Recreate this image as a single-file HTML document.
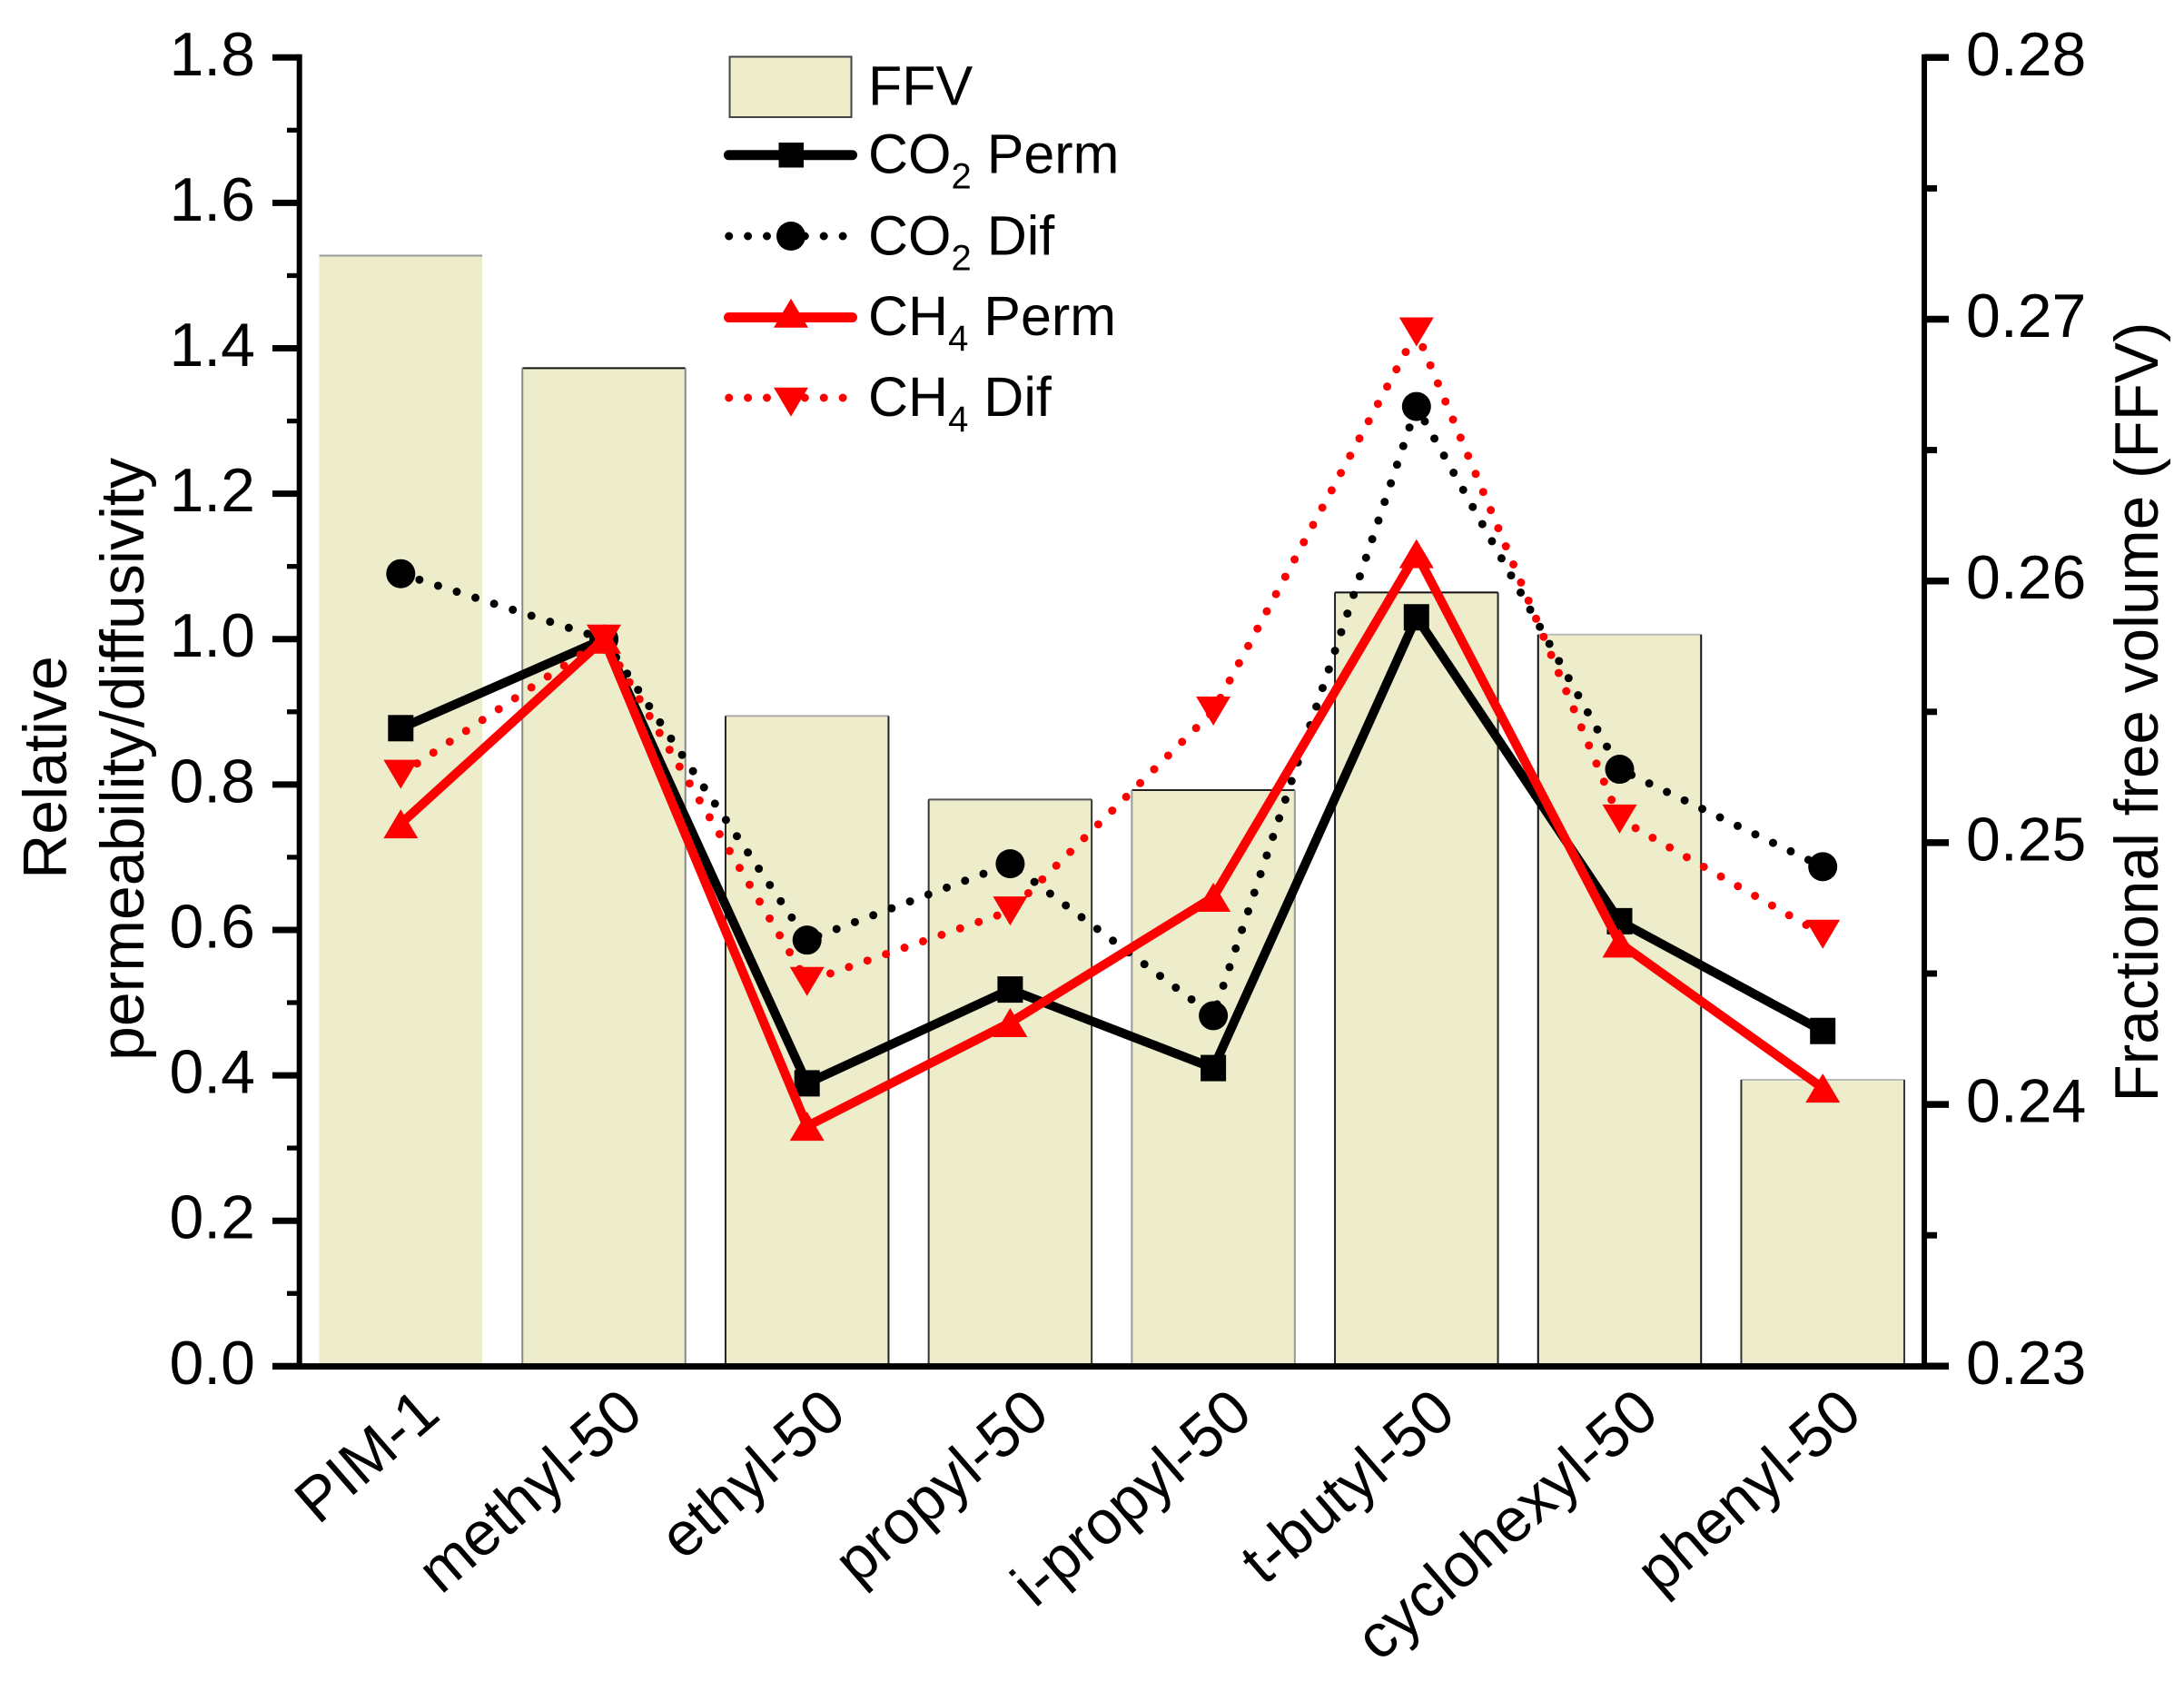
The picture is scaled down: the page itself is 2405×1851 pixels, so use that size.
<!DOCTYPE html>
<html lang="en">
<head>
<meta charset="utf-8">
<title>Relative permeability and fractional free volume</title>
<style>
html,body{margin:0;padding:0;background:#fff;width:2405px;height:1851px;overflow:hidden}
svg{display:block}
text{font-family:"Liberation Sans",Arial,sans-serif;fill:#000}
.tick-text{font-size:68px}
.axis-title{font-size:68px}
.right-title{font-size:67.5px}
.cat-text{font-size:68px}
.legend-text{font-size:61px}
.sub{font-size:40px}
.edge{stroke-width:2;fill:none}
.bar:nth-child(1) .edge-top{stroke:#999}
.bar:nth-child(1) .edge-side{stroke:none}
.bar:nth-child(2) .edge-top{stroke:#111}
.bar:nth-child(2) .edge-side{stroke:#888}
.bar:nth-child(3) .edge-top{stroke:#aaa}
.bar:nth-child(3) .edge-side{stroke:#222}
.bar:nth-child(4) .edge-top{stroke:#555}
.bar:nth-child(4) .edge-side{stroke:#333}
.bar:nth-child(5) .edge-top{stroke:#222}
.bar:nth-child(5) .edge-side{stroke:#999}
.bar:nth-child(6) .edge-top{stroke:#111}
.bar:nth-child(6) .edge-side{stroke:#222}
.bar:nth-child(7) .edge-top{stroke:#bbb}
.bar:nth-child(7) .edge-side{stroke:#111}
.bar:nth-child(8) .edge-top{stroke:#bbb}
.bar:nth-child(8) .edge-side{stroke:#333}
</style>
</head>
<body>
<svg id="chart" xmlns="http://www.w3.org/2000/svg" width="2405" height="1851" viewBox="0 0 2405 1851">
  <rect x="0" y="0" width="2405" height="1851" fill="#fff"/>
  <g id="bars"></g>
  <g id="axes"></g>
  <g id="series"></g>
  <g id="labels"></g>

  <text class="axis-title" transform="translate(73,845) rotate(-90)" text-anchor="middle">Relative</text>
  <text class="axis-title" transform="translate(158,836) rotate(-90)" text-anchor="middle">permeability/diffusivity</text>
  <text class="right-title" transform="translate(2376,784) rotate(-90)" text-anchor="middle">Fractional free volume (FFV)</text>

  <g>
    <g>
      <rect x="803.5" y="62.5" width="134" height="66.5" fill="#ededcc" stroke="#444" stroke-width="2"/>
      <text class="legend-text" x="956" y="115.7">FFV</text>
    </g>
    <g>
      <line x1="802.5" y1="170.7" x2="938.5" y2="170.7" stroke="#000" stroke-width="11" stroke-linecap="round"/>
      <rect x="857.5" y="157" width="27.5" height="27.5" fill="#000"/>
      <text class="legend-text" x="956" y="190.7">CO<tspan class="sub" dy="17">2</tspan><tspan dy="-17"> Perm</tspan></text>
    </g>
    <g>
      <line x1="802.7" y1="260" x2="943" y2="260" stroke="#000" stroke-width="9" stroke-linecap="round" stroke-dasharray="0 20.9"/>
      <circle cx="871" cy="260" r="16" fill="#000"/>
      <text class="legend-text" x="956" y="280.7">CO<tspan class="sub" dy="17">2</tspan><tspan dy="-17"> Dif</tspan></text>
    </g>
    <g>
      <line x1="802.5" y1="349.5" x2="938.5" y2="349.5" stroke="#f00" stroke-width="11" stroke-linecap="round"/>
      <polygon points="871,328.7 890,360.7 852,360.7" fill="#f00"/>
      <text class="legend-text" x="956" y="369">CH<tspan class="sub" dy="17">4</tspan><tspan dy="-17"> Perm</tspan></text>
    </g>
    <g>
      <line x1="802.7" y1="438" x2="943" y2="438" stroke="#f00" stroke-width="9" stroke-linecap="round" stroke-dasharray="0 20.9"/>
      <polygon points="852,426.7 890,426.7 871,458.7" fill="#f00"/>
      <text class="legend-text" x="956" y="458">CH<tspan class="sub" dy="17">4</tspan><tspan dy="-17"> Dif</tspan></text>
    </g>
  </g>
</svg>
<script>
const categories = ['PIM-1','methyl-50','ethyl-50','propyl-50','i-propyl-50','t-butyl-50','cyclohexyl-50','phenyl-50'];
const ffvValues = [0.27243,0.26813,0.25484,0.25165,0.25201,0.25956,0.25795,0.24094];
const co2Perm = [0.8775,1.0,0.389,0.518,0.41,1.03,0.612,0.461];
const co2Dif = [1.09,1.0,0.586,0.691,0.482,1.32,0.821,0.687];
const ch4Perm = [0.746,1.0,0.33,0.4725,0.645,1.1175,0.582,0.3825];
const ch4Dif = [0.814,1.0,0.529,0.626,0.901,1.4225,0.7525,0.594];
const leftTicks = ['0.0','0.2','0.4','0.6','0.8','1.0','1.2','1.4','1.6','1.8'];
const rightTicks = ['0.23','0.24','0.25','0.26','0.27','0.28'];

const NS = 'http://www.w3.org/2000/svg';
const AXIS_BASE = 1504.3, AXIS_TOP = 63.3, LEFT_X = 329.7, RIGHT_X = 2119;
const yLeft = v => AXIS_BASE - (v / 1.8) * (AXIS_BASE - AXIS_TOP);
const yRight = v => AXIS_BASE - ((v - 0.23) / 0.05) * (AXIS_BASE - AXIS_TOP);
const xCat = i => 441.3 + 223.7 * i;
const BAR_W = 179.5;

function mk(parent, tag, attrs, text) {
  const el = document.createElementNS(NS, tag);
  for (const k in attrs) el.setAttribute(k, attrs[k]);
  if (text !== undefined) el.textContent = text;
  parent.appendChild(el);
  return el;
}
function slug(s) { return s.toLowerCase().replace(/[^a-z0-9]+/g, '-'); }

/* bars */
const barsG = document.getElementById('bars');
ffvValues.forEach((v, i) => {
  const cx = xCat(i), x0 = cx - BAR_W / 2, x1 = cx + BAR_W / 2, top = yRight(v);
  const g = mk(barsG, 'g', {class: 'bar'});
  
  
  const r = mk(g, 'rect', {x: x0, y: top, width: BAR_W, height: AXIS_BASE - top, fill: '#ededcc'});
  
  
  const t = mk(g, 'line', {class: 'edge edge-top', x1: x0, y1: top, x2: x1, y2: top});
  
  
  const l = mk(g, 'line', {class: 'edge edge-side', x1: x0, y1: top, x2: x0, y2: AXIS_BASE});
  
  
  const e = mk(g, 'line', {class: 'edge edge-side', x1: x1, y1: top, x2: x1, y2: AXIS_BASE});
  
  
});

/* axes */
const axesG = document.getElementById('axes');
function axisLine(name, x1, y1, x2, y2, w) {
  const el = mk(axesG, 'line', {x1, y1, x2, y2, stroke: '#000', 'stroke-width': w});
  
  
}
axisLine('left-axis-line', LEFT_X, AXIS_TOP - 3.5, LEFT_X, AXIS_BASE + 3.5, 6);
axisLine('right-axis-line', RIGHT_X, AXIS_TOP - 3.5, RIGHT_X, AXIS_BASE + 3.5, 6);
axisLine('x-axis-line', 300, AXIS_BASE + 0.3, 2146, AXIS_BASE + 0.3, 7);

const labelsG = document.getElementById('labels');
leftTicks.forEach(s => {
  const v = parseFloat(s), y = yLeft(v);
  axisLine('left-major-tick', 300, y, LEFT_X, y, 7);
  if (v < 1.8) axisLine('left-minor-tick', 316, yLeft(v + 0.1), LEFT_X, yLeft(v + 0.1), 5.3);
  const t = mk(labelsG, 'text', {class: 'tick-text', x: 281, y: y + 19.5, 'text-anchor': 'end'}, s);
  
  
});
rightTicks.forEach(s => {
  const v = parseFloat(s), y = yRight(v);
  axisLine('right-major-tick', RIGHT_X, y, 2146, y, 7.5);
  if (v < 0.28) axisLine('right-minor-tick', RIGHT_X, yRight(v + 0.005), 2133, yRight(v + 0.005), 7);
  const t = mk(labelsG, 'text', {class: 'tick-text', x: 2165, y: y + 19.5}, s);
  
  
});
categories.forEach((c, i) => {
  const t = mk(labelsG, 'text', {class: 'cat-text', 'text-anchor': 'end', transform: 'translate(' + (xCat(i) + 46) + ',1561) rotate(-41)'}, c);
  
  
});

/* series */
const seriesG = document.getElementById('series');
function marker(g, kind, x, y, color) {
  let el;
  if (kind === 'square') el = mk(g, 'rect', {x: x - 14, y: y - 14.5, width: 28, height: 29, fill: color});
  if (kind === 'circle') el = mk(g, 'circle', {cx: x, cy: y, r: 16, fill: color});
  if (kind === 'up') el = mk(g, 'polygon', {points: x + ',' + (y - 16) + ' ' + (x + 19) + ',' + (y + 16) + ' ' + (x - 19) + ',' + (y + 16), fill: color});
  if (kind === 'down') el = mk(g, 'polygon', {points: (x - 19) + ',' + (y - 16) + ' ' + (x + 19) + ',' + (y - 16) + ' ' + x + ',' + (y + 16), fill: color});
  
  
}
function drawSeries(name, values, color, dotted, kind) {
  const g = mk(seriesG, 'g', {});
  
  
  const pts = values.map((v, i) => xCat(i) + ',' + yLeft(v)).join(' ');
  const attrs = {points: pts, fill: 'none', stroke: color, 'stroke-width': dotted ? 9 : 10, 'stroke-linejoin': 'miter'};
  if (dotted) { attrs['stroke-dasharray'] = '0 21.6'; attrs['stroke-linecap'] = 'round'; }
  const line = mk(g, 'polyline', attrs);
  
  
  values.forEach((v, i) => marker(g, kind, xCat(i), yLeft(v), color));
}
drawSeries('co2-perm', co2Perm, '#000', false, 'square');
drawSeries('co2-dif', co2Dif, '#000', true, 'circle');
drawSeries('ch4-perm', ch4Perm, '#f00', false, 'up');
drawSeries('ch4-dif', ch4Dif, '#f00', true, 'down');
</script>
</body>
</html>
